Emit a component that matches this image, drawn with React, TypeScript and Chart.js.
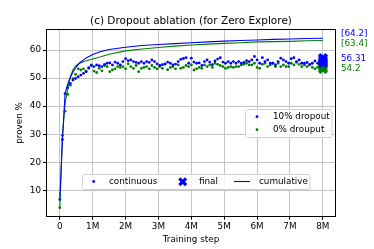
import React, { useEffect, useRef } from 'react';
import { Chart, registerables } from 'chart.js';
Chart.register(...registerables);

const FONT = '"DejaVu Sans", sans-serif';
const BLUE = '#0000ff';
const GREEN = '#008000';

// Training steps (millions) of the continuous evaluations
const STEPS = [
  0, 0.08, 0.16, 0.24, 0.32, 0.4, 0.48, 0.56, 0.64, 0.72,
  0.8, 0.88, 0.96, 1.04, 1.12, 1.2, 1.28, 1.36, 1.44, 1.52,
  1.6, 1.68, 1.76, 1.84, 1.92, 2.0, 2.08, 2.16, 2.24, 2.32,
  2.4, 2.48, 2.56, 2.64, 2.72, 2.8, 2.88, 2.96, 3.04, 3.12,
  3.2, 3.28, 3.36, 3.44, 3.52, 3.6, 3.68, 3.76, 3.84, 3.92,
  4.0, 4.08, 4.16, 4.24, 4.32, 4.4, 4.48, 4.56, 4.64, 4.72,
  4.8, 4.88, 4.96, 5.04, 5.12, 5.2, 5.28, 5.36, 5.44, 5.52,
  5.6, 5.68, 5.76, 5.84, 5.92, 6.0, 6.08, 6.16, 6.24, 6.32,
  6.4, 6.48, 6.56, 6.64, 6.72, 6.8, 6.88, 6.96, 7.04, 7.12,
  7.2, 7.28, 7.36, 7.44, 7.52, 7.6, 7.68, 7.76, 7.84, 7.92,
  8.0,
];

// 10% dropout, continuous proven %
const BLUE_CONT = [
  6.7, 28.1, 44.5, 46.6, 48.1, 49.3, 49.9, 50.5, 51.1, 51.7, 52.3, 53.7, 54.5,
  54.1, 54.7, 54.4, 54.1, 54.9, 55.3, 55.4, 54.7, 55.7, 55.3, 54.7, 55.9, 56.9,
  56.2, 56.5, 55.9, 55.6, 55.3, 55.9, 55.3, 55.9, 55.6, 56.5, 55.9, 55.1,
  54.5, 54.8, 55.1, 55.7, 55.3, 54.7, 55.0, 55.9, 56.7, 57.0, 57.3, 55.3, 57.1,
  55.7, 55.3, 55.4, 54.5, 55.9, 56.5, 55.7, 54.8, 56.1, 56.8, 57.3, 55.7,
  55.3, 55.9, 55.3, 55.9, 55.3, 55.9, 55.3, 55.6, 56.2, 55.9, 56.5, 57.7, 56.5,
  55.3, 57.3, 55.9, 56.5, 55.3, 55.3, 54.7, 55.9, 57.1, 56.5, 55.9, 55.3,
  56.9, 57.3, 55.9, 56.5, 55.3, 55.3, 55.6, 54.9, 55.3, 56.1, 55.3, 54.7, 56.3,
];

// 0% dropout, continuous proven %
const GREEN_CONT = [
  3.8, 29.6, 38.2, 44.2, 47.5, 49.8, 51.3, 53.3, 52.9, 53.3, 52.5, 53.5, 54.7,
  52.5, 52.0, 53.5, 52.6, 54.5, 54.1, 52.3, 52.9, 53.3, 54.1, 53.8, 54.1, 53.3,
  55.1, 54.1, 53.5, 54.5, 52.3, 53.5, 53.8, 54.1, 53.3, 54.5, 53.8, 53.3,
  54.1, 53.5, 54.9, 53.0, 53.8, 54.1, 53.3, 54.7, 53.5, 53.8, 54.5, 54.1, 54.7,
  52.9, 53.3, 53.8, 53.5, 54.7, 54.1, 54.7, 53.8, 55.3, 54.9, 54.5, 54.1,
  53.5, 53.8, 54.1, 53.8, 54.1, 54.1, 54.7, 54.9, 55.3, 54.7, 54.7, 55.3, 53.8,
  53.5, 54.9, 55.3, 54.1, 54.7, 55.3, 54.1, 55.3, 54.1, 54.7, 54.1, 54.1,
  55.3, 54.7, 55.6, 54.9, 54.1, 54.7, 54.1, 54.7, 53.8, 53.3, 53.8, 53.5, 54.2,
];

// Cumulative proven %
const CUM_STEPS = [0, 0.08, 0.16, 0.24, 0.32, 0.4, 0.5, 0.6, 0.8, 1.0, 1.25, 1.5, 2.0, 2.5, 3.0, 3.5, 4.0, 4.5, 5.0, 5.5, 6.0, 6.5, 7.0, 7.5, 8.0];
const BLUE_CUM = [6.7, 28.1, 44.5, 47.8, 50.3, 52.2, 54.0, 55.4, 57.2, 58.4, 59.5, 60.2, 61.0, 61.6, 62.0, 62.3, 62.6, 62.9, 63.2, 63.4, 63.6, 63.8, 63.95, 64.1, 64.2];
const GREEN_CUM = [3.8, 29.6, 41.0, 46.0, 50.5, 53.0, 54.5, 55.3, 56.2, 56.8, 57.6, 58.5, 59.7, 60.4, 60.9, 61.4, 61.8, 62.1, 62.4, 62.6, 62.9, 63.0, 63.1, 63.3, 63.4];

// Final evaluations at the last step
const FINAL_STEP = 8;
const BLUE_FINAL = [57.2, 56.6, 56.0, 55.5];
const GREEN_FINAL = [55.2, 54.5, 53.8, 53.2];

const X_TICKS = [0, 1, 2, 3, 4, 5, 6, 7, 8];
const Y_TICKS = [10, 20, 30, 40, 50, 60];
const X_TICK_LABELS = ['0', '1M', '2M', '3M', '4M', '5M', '6M', '7M', '8M'];

const TITLE = '(c) Dropout ablation (for Zero Explore)';
const X_TITLE = 'Training step';
const Y_TITLE = 'proven %';
const SERIES_NAMES = ['10% dropout', '0% drouput'];
const STYLE_NAMES = ['continuous', 'final', 'cumulative'];
const ANNOTATIONS = [
  { text: '[64.2]', color: BLUE, y: 33.3 },
  { text: '[63.4]', color: GREEN, y: 43.3 },
  { text: '56.31', color: BLUE, y: 58.7 },
  { text: '54.2', color: GREEN, y: 68.7 },
];

// filled "X" marker outline (unit square, centred)
const X_SHAPE = [
  [-0.25, -0.5], [0, -0.25], [0.25, -0.5], [0.5, -0.25], [0.25, 0], [0.5, 0.25],
  [0.25, 0.5], [0, 0.25], [-0.25, 0.5], [-0.5, 0.25], [-0.25, 0], [-0.5, -0.25],
];

function fillX(ctx: CanvasRenderingContext2D, cx: number, cy: number, size: number, color: string) {
  ctx.save();
  ctx.fillStyle = color;
  ctx.beginPath();
  X_SHAPE.forEach(([px, py], i) => {
    const x = cx + px * size;
    const y = cy + py * size;
    if (i === 0) ctx.moveTo(x, y); else ctx.lineTo(x, y);
  });
  ctx.closePath();
  ctx.fill();
  ctx.restore();
}

function xMarkerCanvas(color: string, size: number) {
  const c = document.createElement('canvas');
  c.width = size;
  c.height = size;
  const g = c.getContext('2d')!;
  fillX(g, size / 2, size / 2, size, color);
  return c;
}

function legendBox(ctx: CanvasRenderingContext2D, x: number, y: number, w: number, h: number) {
  ctx.save();
  ctx.fillStyle = 'rgba(255,255,255,0.85)';
  ctx.strokeStyle = '#d0d0d0';
  ctx.lineWidth = 1;
  ctx.beginPath();
  const r = 2;
  ctx.moveTo(x + r, y);
  ctx.lineTo(x + w - r, y); ctx.quadraticCurveTo(x + w, y, x + w, y + r);
  ctx.lineTo(x + w, y + h - r); ctx.quadraticCurveTo(x + w, y + h, x + w - r, y + h);
  ctx.lineTo(x + r, y + h); ctx.quadraticCurveTo(x, y + h, x, y + h - r);
  ctx.lineTo(x, y + r); ctx.quadraticCurveTo(x, y, x + r, y);
  ctx.closePath();
  ctx.fill();
  ctx.stroke();
  ctx.restore();
}

function dot(ctx: CanvasRenderingContext2D, x: number, y: number, color: string) {
  ctx.save();
  ctx.fillStyle = color;
  ctx.beginPath();
  ctx.arc(x, y, 1.4, 0, Math.PI * 2);
  ctx.fill();
  ctx.restore();
}

export default function App() {
  const ref = useRef<HTMLCanvasElement>(null);

  useEffect(() => {
    if (!ref.current) return;
    const pts = (xs: number[], ys: number[]) => ys.map((y, i) => ({ x: xs[i], y }));
    const fin = (ys: number[]) => ys.map((y) => ({ x: FINAL_STEP, y }));
    const blueX = xMarkerCanvas(BLUE, 10);
    const greenX = xMarkerCanvas(GREEN, 10);

    const mplPlugin = {
      id: 'mplDecor',
      afterDraw(chart: any) {
        const ctx: CanvasRenderingContext2D = chart.ctx;
        const a = chart.chartArea;
        ctx.save();
        // axes box
        ctx.strokeStyle = '#000';
        ctx.lineWidth = 1;
        ctx.strokeRect(Math.round(a.left) + 0.5, Math.round(a.top) + 0.5, Math.round(a.right - a.left) - 1, Math.round(a.bottom - a.top));
        ctx.fillStyle = '#000';
        ctx.textBaseline = 'middle';
        // title
        ctx.font = `10.5px ${FONT}`;
        ctx.textAlign = 'center';
        ctx.fillText(TITLE, (a.left + a.right) / 2, 21);
        // axis titles
        ctx.font = `8.8px ${FONT}`;
        ctx.fillText(X_TITLE, (a.left + a.right) / 2, 239.5);
        ctx.save();
        ctx.translate(20, (a.top + a.bottom) / 2);
        ctx.rotate(-Math.PI / 2);
        ctx.fillText(Y_TITLE, 0, 0);
        ctx.restore();
        // annotations
        ctx.textAlign = 'left';
        for (const an of ANNOTATIONS) {
          ctx.fillStyle = an.color;
          ctx.fillText(an.text, 341, an.y);
        }
        // legend 1
        legendBox(ctx, 245.5, 109.5, 86.5, 28);
        dot(ctx, 257, 116.7, BLUE);
        dot(ctx, 257, 129.7, GREEN);
        ctx.fillStyle = '#000';
        ctx.fillText(SERIES_NAMES[0], 273, 117);
        ctx.fillText(SERIES_NAMES[1], 273, 130);
        // legend 2
        legendBox(ctx, 82.5, 174.5, 227.5, 15);
        dot(ctx, 93.7, 181.5, BLUE);
        ctx.fillStyle = '#000';
        ctx.fillText(STYLE_NAMES[0], 109, 182);
        fillX(ctx, 182.7, 181.7, 9, BLUE);
        ctx.fillStyle = '#000';
        ctx.fillText(STYLE_NAMES[1], 199, 182);
        ctx.strokeStyle = BLUE;
        ctx.lineWidth = 1.1;
        ctx.beginPath();
        ctx.moveTo(234, 181.5); ctx.lineTo(250, 181.5);
        ctx.stroke();
        ctx.fillStyle = '#000';
        ctx.fillText(STYLE_NAMES[2], 259, 182);
        ctx.restore();
      },
    };

    const chart = new Chart(ref.current, {
      type: 'scatter',
      data: {
        datasets: [
          { label: 'final 10%', data: fin(BLUE_FINAL), pointStyle: blueX, pointRadius: 5, borderColor: BLUE, backgroundColor: BLUE, order: 0 },
          { label: 'final 0%', data: fin(GREEN_FINAL), pointStyle: greenX, pointRadius: 5, borderColor: GREEN, backgroundColor: GREEN, order: 1 },
          { label: 'cum 10%', data: pts(CUM_STEPS, BLUE_CUM), showLine: true, pointRadius: 0, borderColor: BLUE, borderWidth: 1.1, order: 2 },
          { label: 'cum 0%', data: pts(CUM_STEPS, GREEN_CUM), showLine: true, pointRadius: 0, borderColor: GREEN, borderWidth: 1.1, order: 3 },
          { label: SERIES_NAMES[0], data: pts(STEPS, BLUE_CONT), pointRadius: 1.4, pointBorderWidth: 0, backgroundColor: BLUE, borderColor: BLUE, order: 4 },
          { label: SERIES_NAMES[1], data: pts(STEPS, GREEN_CONT), pointRadius: 1.4, pointBorderWidth: 0, backgroundColor: GREEN, borderColor: GREEN, order: 5 },
        ],
      },
      options: {
        responsive: false,
        animation: false,
        devicePixelRatio: 1,
        layout: { padding: { top: 29.3, right: 38, left: 0, bottom: 0 } },
        plugins: { legend: { display: false }, tooltip: { enabled: false }, title: { display: false } },
        scales: {
          x: {
            type: 'linear',
            min: -0.42,
            max: 8.4,
            afterBuildTicks: (s: any) => { s.ticks = X_TICKS.map((v) => ({ value: v })); },
            afterFit: (s: any) => { s.height = 249 - 216.7; },
            ticks: {
              color: '#000',
              font: { family: FONT, size: 8.8 },
              padding: 2,
              maxRotation: 0,
              autoSkip: false,
              callback: (v: any) => X_TICK_LABELS[X_TICKS.indexOf(Number(v))] ?? '',
            },
            grid: { color: '#c4c4c4', lineWidth: 1, tickColor: '#000', tickLength: 3 },
            border: { display: false },
          },
          y: {
            type: 'linear',
            min: 0.6,
            max: 67.4,
            afterBuildTicks: (s: any) => { s.ticks = Y_TICKS.map((v) => ({ value: v })); },
            afterFit: (s: any) => { s.width = 46; },
            ticks: {
              color: '#000',
              font: { family: FONT, size: 8.8 },
              padding: 2,
              autoSkip: false,
            },
            grid: { color: '#c4c4c4', lineWidth: 1, tickColor: '#000', tickLength: 3 },
            border: { display: false },
          },
        },
      },
      plugins: [mplPlugin],
    } as any);
    return () => chart.destroy();
  }, []);

  return (
    <div style={{ position: 'absolute', left: 0, top: 0, width: 374, height: 249, background: '#fff' }}>
      <canvas ref={ref} width={374} height={249} style={{ width: 374, height: 249, display: 'block' }} />
    </div>
  );
}
